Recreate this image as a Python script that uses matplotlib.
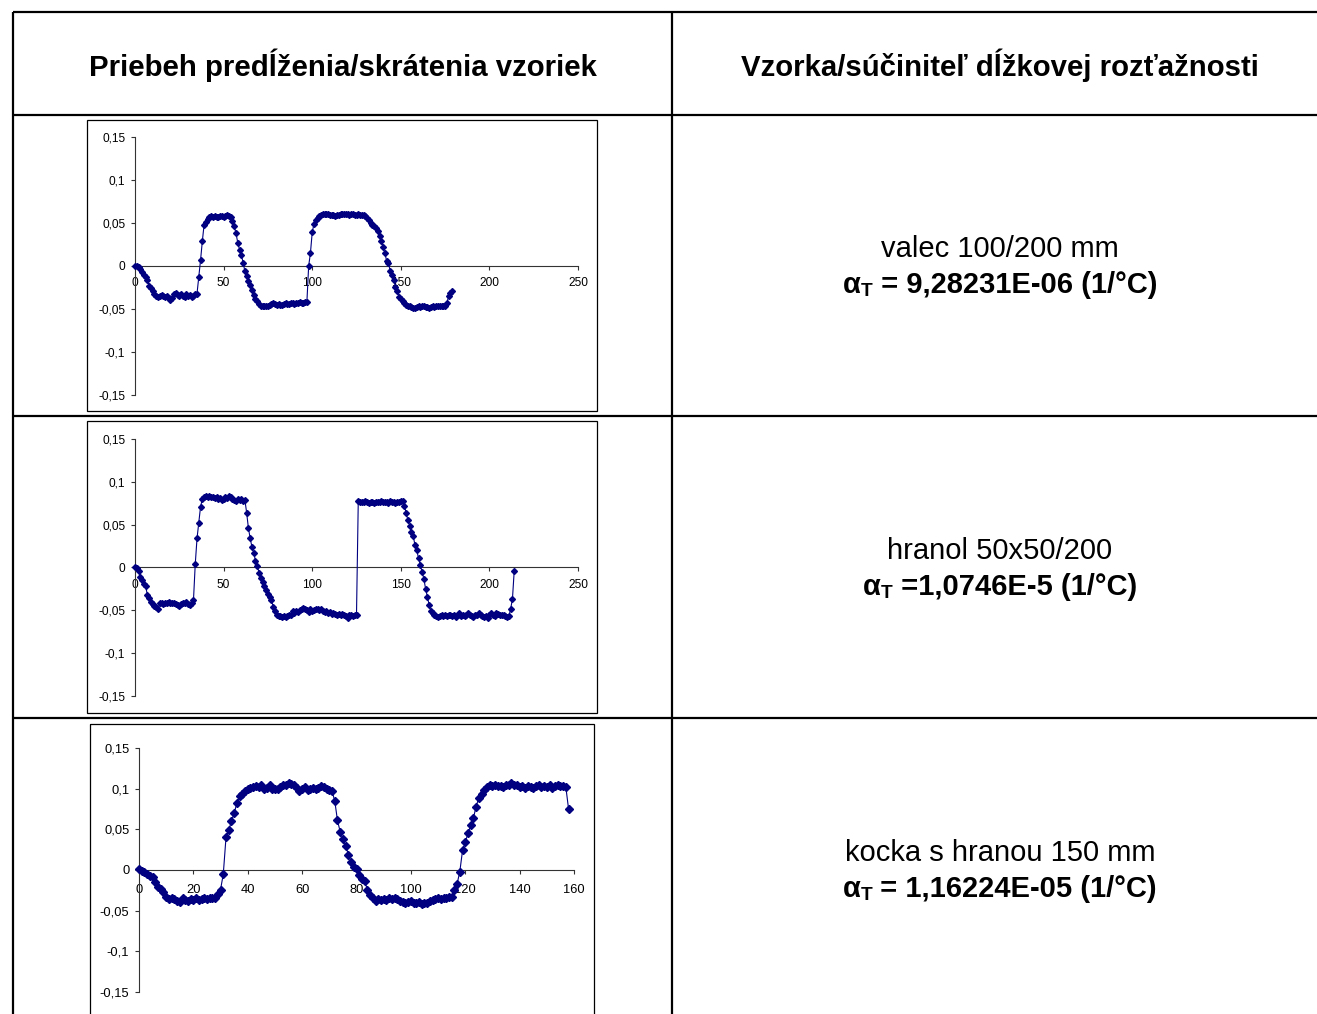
import matplotlib
matplotlib.use('Agg')
import matplotlib.pyplot as plt
import numpy as np
from matplotlib.patches import Rectangle

plt.rcParams['font.family'] = ['Liberation Sans', 'DejaVu Sans']

# ---- data ----
valec_y = [
    0, 0, -0.001, -0.004, -0.007, -0.010, -0.013, -0.016, -0.023, -0.026, -0.029, -0.032, -0.035, -0.036, -0.035,
    -0.034, -0.035, -0.036, -0.035, -0.037, -0.039, -0.037, -0.033, -0.031, -0.034, -0.035, -0.033, -0.035, -0.036,
    -0.033, -0.035, -0.034, -0.036, -0.035, -0.033, -0.032,
    -0.013, 0.007, 0.029, 0.048, 0.051, 0.055,
    0.057, 0.058, 0.057, 0.058, 0.057, 0.057, 0.058, 0.058, 0.057, 0.058, 0.059, 0.058,
    0.057, 0.052, 0.046, 0.038, 0.027, 0.019, 0.013, 0.004, -0.006, -0.012, -0.017, -0.022, -0.028, -0.034, -0.038,
    -0.041, -0.044, -0.046, -0.047,
    -0.046, -0.047, -0.046, -0.045, -0.044, -0.043, -0.044, -0.045, -0.044, -0.045, -0.045, -0.044, -0.043, -0.044,
    -0.044, -0.043, -0.043, -0.044, -0.043, -0.043, -0.042, -0.043, -0.043, -0.042,
    -0.042, 0.000, 0.015, 0.039, 0.049, 0.054, 0.056, 0.058, 0.059, 0.061,
    0.061, 0.060, 0.060, 0.059, 0.059, 0.059, 0.058, 0.059, 0.059, 0.060, 0.060, 0.061, 0.060, 0.060, 0.059, 0.060,
    0.060, 0.059, 0.059, 0.060, 0.059, 0.059, 0.059,
    0.058, 0.056, 0.053, 0.050, 0.048, 0.046, 0.044, 0.041, 0.035, 0.029, 0.022, 0.015, 0.006, 0.004, -0.006, -0.011,
    -0.016, -0.024, -0.029, -0.036, -0.038, -0.041, -0.043, -0.045, -0.046, -0.047, -0.048, -0.049,
    -0.049, -0.048, -0.047, -0.048, -0.047, -0.047, -0.048, -0.048, -0.049, -0.048, -0.047, -0.048, -0.047, -0.046,
    -0.047, -0.046, -0.047, -0.046,
    -0.043, -0.035, -0.031, -0.029,
]

hranol_y = [
    0, -0.001, -0.004, -0.011, -0.015, -0.019, -0.022, -0.032, -0.036, -0.040, -0.043, -0.045, -0.046, -0.048,
    -0.041, -0.042, -0.043, -0.041, -0.042, -0.040, -0.041, -0.042, -0.041, -0.043, -0.044, -0.045, -0.043, -0.041,
    -0.042, -0.040, -0.043, -0.044, -0.041, -0.038,
    0.004, 0.034, 0.052, 0.071, 0.080,
    0.082, 0.083, 0.082, 0.083, 0.082, 0.082, 0.081, 0.082, 0.080, 0.081, 0.079, 0.080, 0.082, 0.081, 0.083, 0.082,
    0.080, 0.079, 0.078, 0.080, 0.079, 0.080, 0.078, 0.079,
    0.064, 0.046, 0.034, 0.024, 0.017, 0.008, 0.002, -0.006, -0.012, -0.017, -0.022, -0.026, -0.031, -0.034, -0.038,
    -0.046, -0.051, -0.055, -0.057,
    -0.057, -0.058, -0.057, -0.058, -0.057, -0.056, -0.055, -0.051, -0.053, -0.051, -0.052, -0.050, -0.048, -0.047,
    -0.049, -0.050, -0.052, -0.049, -0.051, -0.050, -0.049, -0.048, -0.050, -0.049, -0.051, -0.052, -0.051, -0.053,
    -0.052, -0.054, -0.053, -0.054, -0.055, -0.054, -0.056, -0.054, -0.055, -0.057, -0.059, -0.056, -0.055, -0.057,
    -0.056, -0.055,
    0.078, 0.077, 0.077, 0.076, 0.078, 0.076, 0.075, 0.077, 0.076, 0.075, 0.077, 0.076, 0.077, 0.078, 0.076, 0.076,
    0.077, 0.075, 0.078, 0.077, 0.076, 0.075, 0.077, 0.076, 0.078, 0.078,
    0.072, 0.064, 0.055, 0.049, 0.041, 0.037, 0.026, 0.020, 0.011, 0.003, -0.005, -0.013, -0.025, -0.034, -0.044,
    -0.051, -0.053, -0.055, -0.057,
    -0.058, -0.057, -0.056, -0.057, -0.056, -0.057, -0.056, -0.055, -0.057, -0.056,
    -0.058, -0.055, -0.053, -0.057, -0.056, -0.057, -0.055, -0.053, -0.056, -0.057,
    -0.058, -0.056, -0.055, -0.053, -0.056, -0.057, -0.058, -0.057, -0.059, -0.055,
    -0.053, -0.056, -0.057, -0.053, -0.054, -0.055, -0.056, -0.055, -0.057, -0.058,
    -0.057,
    -0.048, -0.037, -0.004,
]

kocka_y = [
    0.001, -0.001, -0.003, -0.005, -0.007, -0.009, -0.015, -0.021, -0.023, -0.027, -0.033, -0.036, -0.035, -0.036,
    -0.038, -0.039, -0.035, -0.037, -0.038, -0.036, -0.037, -0.035, -0.037, -0.036, -0.035, -0.036, -0.034, -0.035,
    -0.034, -0.030, -0.024, -0.005,
    0.040, 0.049, 0.060, 0.070, 0.082, 0.091, 0.094, 0.097, 0.099, 0.101, 0.102, 0.103, 0.102, 0.104, 0.099, 0.101,
    0.104, 0.099, 0.100, 0.099, 0.102, 0.104, 0.105, 0.107, 0.106, 0.104, 0.101, 0.097, 0.100, 0.102, 0.098, 0.100,
    0.101, 0.099, 0.101, 0.103, 0.102, 0.099, 0.098, 0.097,
    0.085, 0.061, 0.047, 0.038, 0.030, 0.019, 0.010, 0.004, 0.001, -0.006, -0.011, -0.014, -0.024, -0.031, -0.035,
    -0.038, -0.036, -0.037, -0.036, -0.037, -0.035, -0.036, -0.034, -0.036, -0.038, -0.039, -0.041, -0.039, -0.038,
    -0.040, -0.041, -0.039, -0.042, -0.040, -0.041, -0.038, -0.037, -0.036, -0.035, -0.036, -0.034, -0.035, -0.033,
    -0.033, -0.024, -0.017, -0.002,
    0.024, 0.034, 0.045, 0.055, 0.064, 0.078, 0.089, 0.094, 0.098, 0.102, 0.104, 0.103, 0.105, 0.103, 0.103, 0.102,
    0.104, 0.105, 0.107, 0.105, 0.104, 0.102, 0.103, 0.101, 0.103, 0.102, 0.101, 0.103, 0.104, 0.102, 0.103, 0.102,
    0.104, 0.101, 0.103, 0.104, 0.103, 0.103, 0.102,
    0.075,
]

y_ticks = [-0.15, -0.1, -0.05, 0, 0.05, 0.1, 0.15]
y_labels = ['-0,15', '-0,1', '-0,05', '0', '0,05', '0,1', '0,15']

header_left = 'Priebeh predĺženia/skrátenia vzoriek'
header_right = 'Vzorka/súčiniteľ dĺžkovej rozťažnosti'
samples = ['valec 100/200 mm', 'hranol 50x50/200', 'kocka s hranou 150 mm']
alphas = [' = 9,28231E-06 (1/°C)', ' =1,0746E-5 (1/°C)', ' = 1,16224E-05 (1/°C)']

W, H = 1317, 1014
fig = plt.figure(figsize=(W / 100, H / 100), dpi=100)

# background axes in pixel units for the table
bg = fig.add_axes([0, 0, 1, 1])
bg.set_xlim(0, W)
bg.set_ylim(H, 0)
bg.axis('off')

for yy in [12, 115, 416, 718]:
    bg.plot([13, W], [yy, yy], color='black', lw=1.6, solid_capstyle='butt')
for xx in [13, 672]:
    bg.plot([xx, xx], [12, H], color='black', lw=1.6, solid_capstyle='butt')

bg.text(343, 65, header_left, fontsize=21.2, weight='bold', ha='center', va='center')
bg.text(1000, 65, header_right, fontsize=21.2, weight='bold', ha='center', va='center')

renderer = fig.canvas.get_renderer()


def alpha_line(cx, cy, rest, fs=21):
    t1 = bg.text(0, cy, 'α', fontsize=fs, weight='bold', va='center', ha='left')
    t2 = bg.text(0, cy + 6, 'T', fontsize=fs * 0.65, weight='bold', va='center', ha='left')
    t3 = bg.text(0, cy, rest, fontsize=fs, weight='bold', va='center', ha='left')
    ws = [t.get_window_extent(renderer).width for t in (t1, t2, t3)]
    x0 = cx - sum(ws) / 2
    t1.set_x(x0)
    t2.set_x(x0 + ws[0])
    t3.set_x(x0 + ws[0] + ws[1])


row_mid = [249, 551, 853]
for i in range(3):
    bg.text(1000, row_mid[i], samples[i], fontsize=21, ha='center', va='center')
    alpha_line(1000, row_mid[i] + 36, alphas[i])


def add_chart(box, ax_px, y, xmax, xstep, fs, ms, xpad):
    bg.add_patch(Rectangle((box[0], box[1]), box[2] - box[0], box[3] - box[1],
                           fill=False, lw=0.9, ec='black'))
    l, t, r, b = ax_px
    ax = fig.add_axes([l / W, 1 - b / H, (r - l) / W, (b - t) / H])
    ax.patch.set_alpha(0)
    x = np.arange(len(y))
    ax.plot(x, y, color='#000080', lw=0.8, marker='D', ms=ms, mec='#000080', mfc='#000080',
            clip_on=False, zorder=3)
    ax.set_xlim(0, xmax)
    ax.set_ylim(-0.15, 0.15)
    ax.spines['top'].set_visible(False)
    ax.spines['right'].set_visible(False)
    ax.spines['bottom'].set_position(('data', 0))
    ax.spines['bottom'].set_color('#333333')
    ax.spines['left'].set_color('#333333')
    ax.set_yticks(y_ticks)
    ax.set_yticklabels(y_labels)
    xt = np.arange(0, xmax + 1, xstep)
    ax.set_xticks(xt)
    ax.set_xticklabels([str(v) for v in xt])
    ax.tick_params(direction='out', length=3, width=0.8, labelsize=fs, pad=4, colors='#333333',
                   labelcolor='black')
    ax.tick_params(axis='x', pad=xpad)
    return ax


add_chart((87, 120, 597, 411), (135, 137, 578, 395), valec_y, 250, 50, 8.6, 3.0, 5)
add_chart((87, 421, 597, 713), (135, 439, 578, 696), hranol_y, 250, 50, 8.6, 3.0, 5)
add_chart((90, 724, 594, 1030), (139, 748, 574, 992), kocka_y, 160, 20, 9.3, 3.8, 7)

fig.savefig('out.png', dpi=100)
